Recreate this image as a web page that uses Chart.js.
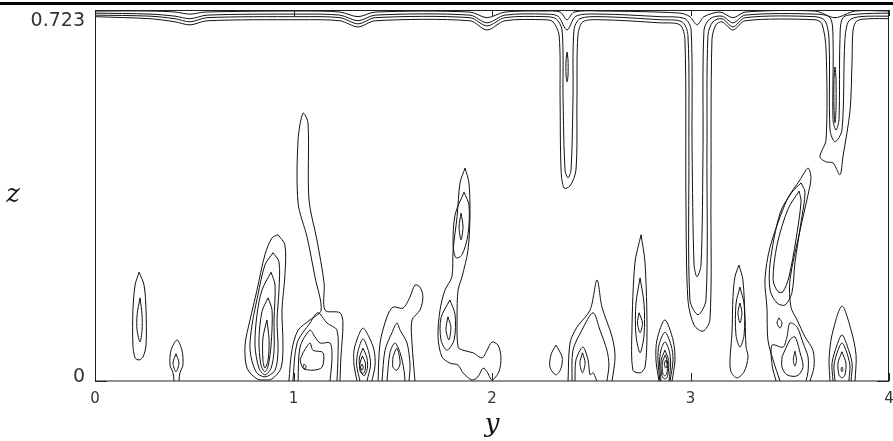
<!DOCTYPE html>
<html>
<head>
<meta charset="utf-8">
<script src="https://cdn.jsdelivr.net/npm/chart.js@4.4.1/dist/chart.umd.min.js"></script>
<style>
  html, body { margin: 0; padding: 0; background: #fff; }
  #wrap { width: 893px; height: 441px; }
</style>
</head>
<body>
<div id="wrap"><canvas id="chart" width="893" height="441"></canvas></div>
<script>
// contour lines, points are [y, z]
const xTicks = [0, 1, 2, 3, 4];
const zTicks = [0, 0.723];

// band of contours along the top, pulled down into the plumes
const top1 = [[0,0.721],[0.277,0.721],[0.403,0.719],[0.479,0.715],[0.554,0.719],[1.033,0.721],[1.234,0.719],[1.325,0.710],[1.411,0.719],[1.889,0.719],[1.975,0.708],[2.065,0.719],[2.267,0.721],[2.343,0.719],[2.378,0.704],[2.413,0.719],[2.544,0.721],[2.947,0.717],[2.997,0.710],[3.033,0.694],[3.068,0.710],[3.149,0.719],[3.214,0.708],[3.275,0.719],[3.627,0.721],[3.728,0.708],[3.829,0.721],[4,0.721]];
const top2 = [[0,0.717],[0.277,0.715],[0.403,0.711],[0.479,0.706],[0.564,0.713],[1.033,0.715],[1.234,0.713],[1.325,0.702],[1.411,0.713],[1.889,0.713],[1.975,0.698],[2.065,0.713],[2.267,0.715],[2.332,0.711],[2.378,0.684],[2.423,0.711],[2.544,0.715],[2.846,0.710],[2.972,0.706],[3.003,0.684],[3.008,0.450],[3.018,0.226],[3.033,0.203],[3.053,0.226],[3.063,0.450],[3.068,0.684],[3.098,0.706],[3.159,0.711],[3.214,0.698],[3.275,0.713],[3.627,0.715],[3.703,0.708],[3.718,0.665],[3.718,0.509],[3.733,0.489],[3.748,0.509],[3.753,0.665],[3.768,0.708],[3.844,0.715],[4,0.717]];
const top3 = [[0,0.713],[0.277,0.711],[0.403,0.706],[0.479,0.700],[0.564,0.708],[1.033,0.710],[1.234,0.708],[1.325,0.696],[1.411,0.708],[1.889,0.708],[1.975,0.692],[2.065,0.708],[2.267,0.710],[2.322,0.706],[2.353,0.684],[2.358,0.548],[2.368,0.411],[2.383,0.396],[2.398,0.411],[2.408,0.548],[2.413,0.684],[2.443,0.706],[2.544,0.710],[2.846,0.704],[2.957,0.700],[2.987,0.674],[2.992,0.450],[2.997,0.158],[3.038,0.129],[3.078,0.158],[3.083,0.450],[3.088,0.674],[3.113,0.700],[3.159,0.706],[3.214,0.690],[3.275,0.708],[3.627,0.710],[3.678,0.702],[3.698,0.665],[3.703,0.489],[3.728,0.466],[3.763,0.489],[3.778,0.665],[3.798,0.702],[3.854,0.710],[4,0.711]];
const top4 = [[0,0.710],[0.277,0.706],[0.403,0.700],[0.479,0.694],[0.564,0.702],[1.033,0.704],[1.234,0.702],[1.325,0.690],[1.411,0.702],[1.889,0.702],[1.975,0.684],[2.065,0.702],[2.267,0.704],[2.307,0.700],[2.338,0.674],[2.343,0.548],[2.348,0.411],[2.363,0.376],[2.393,0.380],[2.423,0.411],[2.428,0.548],[2.433,0.674],[2.458,0.700],[2.544,0.704],[2.846,0.698],[2.947,0.694],[2.972,0.665],[2.977,0.353],[2.987,0.158],[3.018,0.109],[3.063,0.097],[3.098,0.119],[3.103,0.353],[3.108,0.665],[3.128,0.694],[3.159,0.700],[3.214,0.684],[3.275,0.702],[3.627,0.704],[3.662,0.696],[3.683,0.645],[3.683,0.470],[3.652,0.437],[3.683,0.427],[3.718,0.425],[3.753,0.402],[3.768,0.437],[3.804,0.528],[3.814,0.626],[3.819,0.684],[3.839,0.702],[3.904,0.706],[4,0.706]];
const plumeMcore = [[2.378,0.641],[2.383,0.626],[2.383,0.596],[2.378,0.583],[2.373,0.596],[2.373,0.626],[2.378,0.641]];
const plumeNcore = [[3.728,0.612],[3.733,0.590],[3.733,0.530],[3.728,0.503],[3.723,0.530],[3.723,0.590],[3.728,0.612]];

// blobs rising from the bottom
const blobA1 = [[0.222,0.212],[0.247,0.187],[0.257,0.138],[0.257,0.070],[0.242,0.047],[0.222,0.041],[0.202,0.045],[0.191,0.070],[0.191,0.138],[0.202,0.187],[0.222,0.212]];
const blobA2 = [[0.227,0.162],[0.237,0.129],[0.237,0.099],[0.227,0.076],[0.212,0.099],[0.212,0.129],[0.227,0.162]];
const blobB1 = [[0.398,0],[0.393,0.016],[0.378,0.031],[0.383,0.060],[0.413,0.080],[0.438,0.060],[0.443,0.031],[0.428,0.016],[0.423,0]];
const blobB2 = [[0.408,0.053],[0.423,0.035],[0.408,0.018],[0.393,0.035],[0.408,0.053]];
const blobC1 = [[0.922,0.285],[0.957,0.265],[0.957,0.207],[0.942,0.138],[0.947,0.070],[0.937,0.025],[0.892,0.004],[0.856,0.002],[0.816,0.004],[0.766,0.025],[0.756,0.070],[0.781,0.119],[0.816,0.177],[0.856,0.246],[0.892,0.279],[0.922,0.285]];
const blobC2 = [[0.897,0.250],[0.927,0.232],[0.927,0.177],[0.917,0.119],[0.922,0.060],[0.907,0.021],[0.856,0.008],[0.811,0.018],[0.781,0.060],[0.791,0.109],[0.821,0.168],[0.856,0.226],[0.897,0.250]];
const blobC3 = [[0.887,0.212],[0.907,0.187],[0.902,0.119],[0.902,0.060],[0.887,0.025],[0.856,0.012],[0.826,0.025],[0.806,0.070],[0.816,0.129],[0.841,0.177],[0.887,0.212]];
const blobC4 = [[0.872,0.162],[0.892,0.138],[0.887,0.070],[0.872,0.029],[0.856,0.018],[0.836,0.031],[0.826,0.080],[0.841,0.135],[0.872,0.162]];
const blobC5 = [[0.866,0.119],[0.877,0.080],[0.872,0.041],[0.856,0.025],[0.846,0.041],[0.846,0.084],[0.866,0.119]];
const blobD1 = [[0.977,0],[0.992,0.060],[1.023,0.099],[1.083,0.119],[1.139,0.138],[1.108,0.203],[1.068,0.281],[1.023,0.347],[1.023,0.470],[1.048,0.522],[1.073,0.503],[1.078,0.353],[1.118,0.275],[1.154,0.191],[1.159,0.138],[1.234,0.133],[1.249,0.113],[1.239,0.047],[1.234,0]];
const blobD2 = [[0.997,0],[1.018,0.074],[1.083,0.113],[1.123,0.133],[1.169,0.113],[1.219,0.099],[1.224,0.047],[1.219,0]];
const blobD3 = [[1.023,0],[1.033,0.066],[1.083,0.099],[1.108,0.086],[1.134,0.074],[1.184,0.074],[1.194,0.047],[1.184,0]];
const blobD4 = [[1.033,0.041],[1.048,0.055],[1.083,0.074],[1.098,0.060],[1.149,0.055],[1.144,0.027],[1.098,0.021],[1.048,0.025],[1.033,0.041]];
const blobD5 = [[1.053,0.033],[1.063,0.029],[1.058,0.023],[1.048,0.027],[1.053,0.033]];
const blobE1 = [[1.320,0],[1.305,0.031],[1.305,0.060],[1.325,0.086],[1.350,0.103],[1.380,0.086],[1.406,0.060],[1.411,0.031],[1.395,0]];
const blobE2 = [[1.335,0],[1.318,0.031],[1.325,0.058],[1.350,0.082],[1.378,0.058],[1.388,0.031],[1.370,0]];
const blobE3 = [[1.350,0.064],[1.370,0.045],[1.372,0.025],[1.355,0.010],[1.335,0.025],[1.332,0.045],[1.350,0.064]];
const blobE4 = [[1.347,0.049],[1.362,0.035],[1.360,0.020],[1.347,0.014],[1.335,0.020],[1.335,0.035],[1.347,0.049]];
const blobE5 = [[1.345,0.033],[1.352,0.027],[1.345,0.021],[1.338,0.027],[1.345,0.033]];
const blobF1 = [[1.426,0],[1.436,0.074],[1.471,0.125],[1.501,0.144],[1.552,0.142],[1.587,0.164],[1.612,0.187],[1.637,0.183],[1.652,0.164],[1.637,0.138],[1.597,0.119],[1.597,0.074],[1.612,0]];
const blobF2 = [[1.446,0],[1.461,0.060],[1.496,0.094],[1.521,0.113],[1.537,0.099],[1.572,0.074],[1.587,0.031],[1.582,0]];
const blobF3 = [[1.471,0],[1.486,0.055],[1.511,0.074],[1.537,0.055],[1.557,0.020],[1.562,0]];
const blobF4 = [[1.501,0.047],[1.521,0.064],[1.537,0.035],[1.521,0.021],[1.501,0.027],[1.501,0.047]];
const blobG1 = [[1.864,0.415],[1.884,0.386],[1.889,0.320],[1.879,0.255],[1.849,0.203],[1.829,0.177],[1.824,0.125],[1.829,0.066],[1.854,0.060],[1.904,0.055],[1.950,0.045],[1.975,0.060],[2.000,0.076],[2.030,0.070],[2.045,0.047],[2.035,0.018],[2.000,0.002],[1.975,0.018],[1.955,0.025],[1.929,0.008],[1.899,0.002],[1.854,0.016],[1.829,0.031],[1.788,0.035],[1.748,0.047],[1.728,0.086],[1.738,0.138],[1.763,0.177],[1.798,0.203],[1.804,0.255],[1.824,0.320],[1.839,0.386],[1.864,0.415]];
const blobG2 = [[1.859,0.368],[1.884,0.343],[1.879,0.285],[1.849,0.246],[1.819,0.240],[1.804,0.265],[1.814,0.324],[1.859,0.368]];
const blobG3 = [[1.844,0.327],[1.854,0.300],[1.844,0.275],[1.834,0.300],[1.844,0.327]];
const blobG4 = [[1.788,0.158],[1.814,0.129],[1.809,0.080],[1.773,0.060],[1.743,0.080],[1.743,0.123],[1.788,0.158]];
const blobG5 = [[1.778,0.125],[1.793,0.105],[1.783,0.080],[1.768,0.100],[1.778,0.125]];
const blobH = [[2.322,0.070],[2.353,0.047],[2.348,0.025],[2.322,0.012],[2.292,0.027],[2.297,0.051],[2.322,0.070]];
const blobI1 = [[2.383,0],[2.393,0.074],[2.428,0.105],[2.494,0.138],[2.529,0.197],[2.554,0.144],[2.605,0.086],[2.620,0.047],[2.605,0]];
const blobI2 = [[2.403,0],[2.408,0.060],[2.453,0.099],[2.509,0.133],[2.544,0.099],[2.579,0.060],[2.589,0.031],[2.579,0]];
const blobI3 = [[2.418,0],[2.423,0.041],[2.458,0.066],[2.484,0.041],[2.494,0.012],[2.509,0.016],[2.524,0.004],[2.529,0]];
const blobI4 = [[2.456,0.055],[2.469,0.035],[2.456,0.016],[2.443,0.035],[2.456,0.055]];
const blobJ1 = [[2.751,0.285],[2.771,0.230],[2.781,0.099],[2.771,0.027],[2.746,0.016],[2.710,0.021],[2.705,0.099],[2.720,0.230],[2.751,0.285]];
const blobJ2 = [[2.746,0.201],[2.766,0.150],[2.766,0.090],[2.746,0.055],[2.725,0.090],[2.725,0.150],[2.746,0.201]];
const blobJ3 = [[2.741,0.133],[2.758,0.113],[2.746,0.094],[2.733,0.113],[2.741,0.133]];
const blobK1 = [[2.841,0],[2.826,0.041],[2.831,0.080],[2.871,0.119],[2.912,0.080],[2.922,0.041],[2.907,0]];
const blobK2 = [[2.846,0],[2.836,0.041],[2.841,0.070],[2.871,0.095],[2.902,0.070],[2.912,0.041],[2.897,0]];
const blobK3 = [[2.851,0],[2.844,0.035],[2.851,0.060],[2.871,0.076],[2.892,0.060],[2.900,0.035],[2.892,0]];
const blobK4 = [[2.871,0.060],[2.890,0.040],[2.885,0.010],[2.871,0.004],[2.856,0.010],[2.852,0.040],[2.871,0.060]];
const blobK5 = [[2.873,0.051],[2.885,0.035],[2.880,0.014],[2.871,0.010],[2.861,0.014],[2.858,0.035],[2.873,0.051]];
const blobK6 = [[2.876,0.041],[2.882,0.033],[2.876,0.025],[2.868,0.033],[2.876,0.041]];
const blobQ1 = [[3.244,0.226],[3.264,0.197],[3.275,0.119],[3.280,0.066],[3.290,0.047],[3.270,0.018],[3.234,0.006],[3.204,0.018],[3.199,0.041],[3.209,0.094],[3.214,0.164],[3.224,0.203],[3.244,0.226]];
const blobQ2 = [[3.249,0.183],[3.270,0.150],[3.270,0.090],[3.249,0.066],[3.229,0.090],[3.229,0.150],[3.249,0.183]];
const blobQ3 = [[3.249,0.152],[3.259,0.133],[3.249,0.113],[3.239,0.133],[3.249,0.152]];
const blobO1 = [[3.451,0],[3.416,0.041],[3.390,0.080],[3.385,0.144],[3.375,0.197],[3.401,0.261],[3.486,0.353],[3.552,0.392],[3.592,0.415],[3.607,0.396],[3.592,0.363],[3.552,0.294],[3.501,0.197],[3.506,0.144],[3.537,0.119],[3.577,0.086],[3.617,0.060],[3.622,0.027],[3.602,0]];
const blobO2 = [[3.557,0.386],[3.577,0.368],[3.557,0.310],[3.526,0.230],[3.511,0.172],[3.476,0.148],[3.436,0.152],[3.401,0.177],[3.401,0.230],[3.451,0.327],[3.511,0.368],[3.557,0.386]];
const blobO3 = [[3.547,0.370],[3.557,0.350],[3.531,0.275],[3.496,0.203],[3.466,0.174],[3.441,0.174],[3.416,0.197],[3.436,0.265],[3.491,0.335],[3.547,0.370]];
const blobO4 = [[3.431,0],[3.411,0.031],[3.411,0.070],[3.466,0.066],[3.486,0.086],[3.501,0.113],[3.537,0.105],[3.567,0.074],[3.592,0.047],[3.592,0.018],[3.582,0]];
const blobO5 = [[3.461,0.047],[3.501,0.080],[3.526,0.086],[3.552,0.055],[3.567,0.027],[3.537,0.010],[3.486,0.012],[3.461,0.027],[3.461,0.047]];
const blobO6 = [[3.526,0.058],[3.534,0.041],[3.526,0.029],[3.518,0.041],[3.526,0.058]];
const blobO7 = [[3.446,0.123],[3.461,0.113],[3.451,0.103],[3.436,0.113],[3.446,0.123]];
const blobP1 = [[3.703,0],[3.698,0.041],[3.713,0.090],[3.763,0.146],[3.809,0.099],[3.834,0.051],[3.829,0]];
const blobP2 = [[3.718,0],[3.713,0.035],[3.738,0.070],[3.763,0.090],[3.788,0.070],[3.814,0.035],[3.809,0]];
const blobP3 = [[3.728,0],[3.723,0.031],[3.743,0.060],[3.763,0.074],[3.783,0.060],[3.803,0.031],[3.798,0]];
const blobP4 = [[3.763,0.057],[3.783,0.035],[3.778,0.012],[3.763,0.006],[3.748,0.012],[3.743,0.035],[3.763,0.057]];
const blobP5 = [[3.763,0.027],[3.768,0.022],[3.763,0.018],[3.758,0.022],[3.763,0.027]];

const contourLines = [
  top1, top2, top3, top4, plumeMcore, plumeNcore,
  blobA1, blobA2, blobB1, blobB2,
  blobC1, blobC2, blobC3, blobC4, blobC5,
  blobD1, blobD2, blobD3, blobD4, blobD5,
  blobE1, blobE2, blobE3, blobE4, blobE5,
  blobF1, blobF2, blobF3, blobF4,
  blobG1, blobG2, blobG3, blobG4, blobG5,
  blobH, blobI1, blobI2, blobI3, blobI4,
  blobJ1, blobJ2, blobJ3,
  blobK1, blobK2, blobK3, blobK4, blobK5, blobK6,
  blobQ1, blobQ2, blobQ3,
  blobO1, blobO2, blobO3, blobO4, blobO5, blobO6, blobO7,
  blobP1, blobP2, blobP3, blobP4, blobP5
];

// frame, inward ticks, labels and the heavy rule on top
const framePlugin = {
  id: 'frame',
  afterDraw(chart) {
    const { ctx, chartArea: a, scales } = chart;
    const sx = scales.x, sy = scales.y;
    ctx.save();
    ctx.strokeStyle = '#000';
    ctx.lineWidth = 3;
    ctx.beginPath();
    ctx.moveTo(0, 3.5);
    ctx.lineTo(chart.width, 3.5);
    ctx.stroke();

    ctx.strokeStyle = '#222';
    ctx.lineWidth = 1;
    ctx.strokeRect(a.left + 0.5, a.top + 0.5, a.right - a.left - 1, a.bottom - a.top - 0.5);

    ctx.beginPath();
    xTicks.forEach(v => {
      const px = Math.round(sx.getPixelForValue(v)) + 0.5;
      ctx.moveTo(px, a.bottom); ctx.lineTo(px, a.bottom - 8);
      ctx.moveTo(px, a.top); ctx.lineTo(px, a.top + 6);
    });
    zTicks.forEach(v => {
      const py = Math.round(sy.getPixelForValue(v)) + 0.5;
      ctx.moveTo(a.left, py); ctx.lineTo(a.left + 12, py);
      ctx.moveTo(a.right, py); ctx.lineTo(a.right - 12, py);
    });
    ctx.stroke();

    ctx.fillStyle = '#333';
    ctx.font = '15px "DejaVu Sans"';
    ctx.textAlign = 'center';
    ctx.textBaseline = 'middle';
    xTicks.forEach(v => ctx.fillText(String(v), sx.getPixelForValue(v), 399));

    ctx.font = '19px "DejaVu Sans"';
    ctx.textAlign = 'right';
    ctx.textBaseline = 'alphabetic';
    ctx.fillText('0', a.left - 10, sy.getPixelForValue(0) + 1);
    ctx.fillText('0.723', a.left - 10, sy.getPixelForValue(0.723) + 16);

    ctx.fillStyle = '#111';
    ctx.font = 'italic 26px "DejaVu Serif"';
    ctx.textAlign = 'center';
    ctx.fillText('y', (a.left + a.right) / 2, 432);
    ctx.fillText('z', 13, 202);
    ctx.restore();
  }
};

new Chart(document.getElementById('chart'), {
  type: 'scatter',
  data: {
    datasets: contourLines.map(line => ({
      data: line.map(p => ({ x: p[0], y: p[1] })),
      showLine: true,
      fill: false,
      borderColor: '#111',
      borderWidth: 1,
      pointRadius: 0,
      tension: 0.3
    }))
  },
  options: {
    responsive: false,
    animation: false,
    layout: { padding: { top: 10, right: 4, left: 0, bottom: 0 } },
    plugins: { legend: { display: false }, tooltip: { enabled: false } },
    scales: {
      x: {
        type: 'linear', min: 0, max: 4,
        grid: { display: false }, border: { display: false },
        ticks: { display: false },
        afterFit(scale) { scale.height = 60; }
      },
      y: {
        type: 'linear', min: 0, max: 0.723,
        grid: { display: false }, border: { display: false },
        ticks: { display: false },
        afterFit(scale) { scale.width = 95; }
      }
    }
  },
  plugins: [framePlugin]
});
</script>
</body>
</html>
